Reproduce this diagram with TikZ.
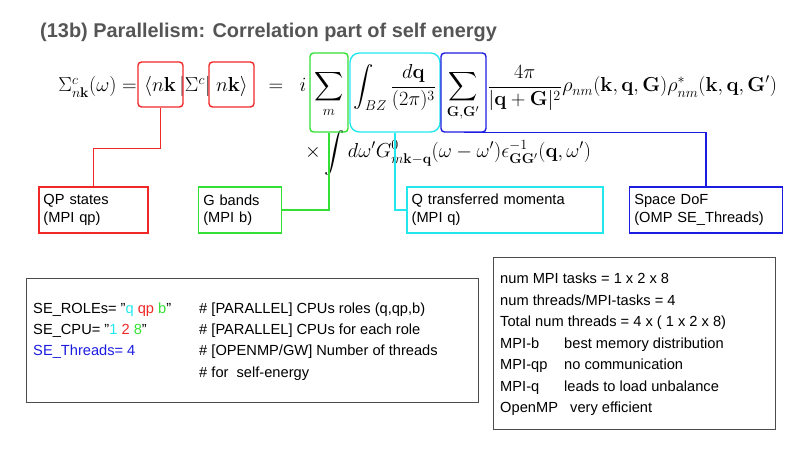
\documentclass[tikz,border=0pt]{standalone}
\usepackage{amsmath}
\usepackage[no-math]{fontspec}
\setmainfont{Liberation Sans}
\usepackage{tikz}
\usetikzlibrary{positioning}
\definecolor{cRed}{HTML}{F02828}
\definecolor{cGreen}{HTML}{33E033}
\definecolor{cCyan}{HTML}{22E8EE}
\definecolor{cBlue}{HTML}{1C1CE0}
\definecolor{cGray}{HTML}{555555}
\tikzset{
  eq/.style={anchor=base, inner sep=0pt, font=\fontsize{17.5}{20}\selectfont},
  tag/.style={draw, line width=1.2pt, align=left, inner sep=4pt, font=\fontsize{12.5}{15}\selectfont},
  txt/.style={anchor=base west, inner sep=0pt, font=\fontsize{12.5}{15}\selectfont},
  frame/.style={draw=black!70, line width=0.8pt}
}
\begin{document}
\begin{tikzpicture}[x=0.03cm, y=-0.03cm]
				\useasboundingbox (0,0) rectangle (800,450);
				
				\node[anchor=base west, inner sep=0pt, text=cGray, font=\fontsize{17}{20}\selectfont\bfseries] (title) at (40,38) {(13b) Parallelism: Correlation part of self energy};
				
				% equation
				\node[eq, anchor=base east] (lhs) at (137,92) {$\Sigma^c_{n\mathbf{k}}(\omega) =$};
				\node[eq] (bra) at (160,92) {$\langle n\mathbf{k}$};
				\node[eq] (sig) at (195,92) {$|\Sigma^c|$};
				\node[eq] (ket) at (232,92) {$n\mathbf{k}\rangle$};
				\node[eq] (eqs) at (276,92) {$=$};
				\node[eq] (ii) at (303,92) {$i$};
				\node[eq] (summ) at (329,92) {$\displaystyle\sum_m$};
				\node[eq] (intq) at (395,92) {$\displaystyle\int_{BZ}\frac{d\mathbf{q}}{(2\pi)^3}$};
				\node[eq] (sumg) at (463,92) {$\displaystyle\sum_{\mathbf{G},\mathbf{G}'}$};
				\node[eq, anchor=base west] (rest) at (487,92) {$\displaystyle\frac{4\pi}{|\mathbf{q}+\mathbf{G}|^2}\rho_{nm}(\mathbf{k},\mathbf{q},\mathbf{G})\rho^*_{nm}(\mathbf{k},\mathbf{q},\mathbf{G}')$};
				\node[eq, anchor=base west] (line2) at (305,158) {$\times\displaystyle\int d\omega' G^0_{m\mathbf{k}-\mathbf{q}}(\omega-\omega')\epsilon^{-1}_{\mathbf{G}\mathbf{G}'}(\mathbf{q},\omega')$};
				
				% boxes on the equation
				\node[draw=cRed, line width=1.2pt, rounded corners=3pt, minimum width=1.35cm, minimum height=1.35cm] (rb1) at (160.5,84.5) {};
				\node[draw=cRed, line width=1.2pt, rounded corners=3pt, minimum width=1.35cm, minimum height=1.35cm] (rb2) at (231.5,84.5) {};
				\node[draw=cGreen, line width=1.2pt, rounded corners=3pt, minimum width=1.14cm, minimum height=2.37cm] (gb) at (329,92.5) {};
				\node[draw=cCyan, line width=1.2pt, rounded corners=8pt, minimum width=2.7cm, minimum height=2.37cm] (cb) at (395,92.5) {};
				\node[draw=cBlue, line width=1.2pt, rounded corners=3pt, minimum width=1.35cm, minimum height=2.37cm] (bb) at (463.5,92.5) {};
				
				% labels
				\node[tag, draw=cRed, text width=3.0cm, minimum height=1.38cm] (qp) at (93.5,210) {QP states\\(MPI qp)};
				\node[tag, draw=cGreen, text width=2.2cm, minimum height=1.38cm] (gl) at (240,210) {G bands\\(MPI b)};
				\node[tag, draw=cCyan, text width=5.6cm, minimum height=1.38cm] (ql) at (505,210) {Q transferred momenta\\(MPI q)};
				\node[tag, draw=cBlue, text width=4.3cm, minimum height=1.38cm] (sl) at (706,210) {Space DoF\\(OMP SE\_Threads)};
				
				\draw[cRed, line width=1.2pt] (rb1.south) -- ++(0,41) -| (qp.north);
				\draw[cGreen, line width=1.2pt] (gb.south) |- (gl.east);
				\draw[cCyan, line width=1.2pt] (cb.south) |- (ql.west);
				\draw[cBlue, line width=1.2pt] (bb.south) -| (sl.north);
				
				% input box
				\node[frame, minimum width=13.56cm, minimum height=3.72cm] (inp) at (252,340.5) {};
				\node[txt] (r1) at (33,313) {SE\_ROLEs= "\textcolor{cCyan}{q} \textcolor{cRed}{qp} \textcolor{cGreen}{b}"};
				\node[txt] (r2) at (33,334) {SE\_CPU= "\textcolor{cCyan}{1} \textcolor{cRed}{2} \textcolor{cGreen}{8}"};
				\node[txt, text=cBlue] (r3) at (33,355) {SE\_Threads= 4};
				\node[txt] (c1) at (199,313) {\# [PARALLEL] CPUs roles (q,qp,b)};
				\node[txt] (c2) at (199,334) {\# [PARALLEL] CPUs for each role};
				\node[txt] (c3) at (199,355) {\# [OPENMP/GW] Number of threads};
				\node[txt] (c4) at (199,377) {\# for\ \ self-energy};
				
				% summary box
				\node[frame, minimum width=8.46cm, minimum height=5.16cm] (sum) at (634,343) {};
				\node[txt] (s1) at (500,283) {num MPI tasks = 1 x 2 x 8};
				\node[txt] (s2) at (500,305) {num threads/MPI-tasks = 4};
				\node[txt] (s3) at (500,326) {Total num threads = 4 x ( 1 x 2 x 8)};
				\node[txt] (s4) at (500,348) {MPI-b};
				\node[txt] (s4b) at (564,348) {best memory distribution};
				\node[txt] (s5) at (500,369) {MPI-qp};
				\node[txt] (s5b) at (564,369) {no communication};
				\node[txt] (s6) at (500,391) {MPI-q};
				\node[txt] (s6b) at (564,391) {leads to load unbalance};
				\node[txt] (s7) at (500,412) {OpenMP\ \ \ very efficient};
			\end{tikzpicture}
\end{document}
